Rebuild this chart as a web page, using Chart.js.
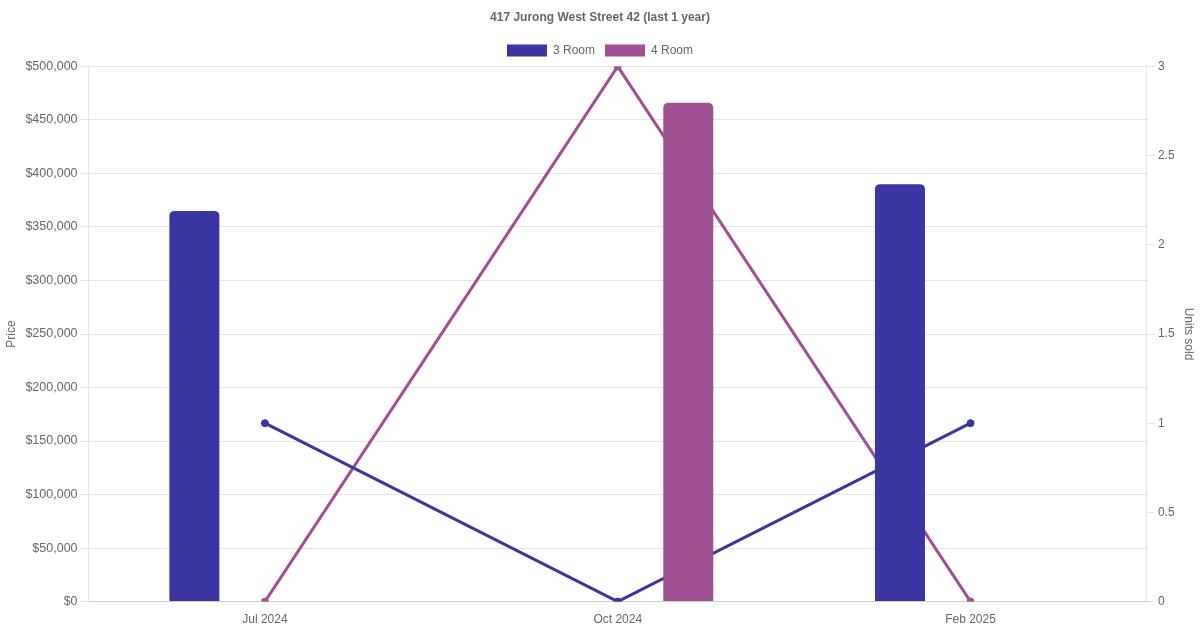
<!DOCTYPE html>
<html>
<head>
<meta charset="utf-8">
<script src="https://cdn.jsdelivr.net/npm/chart.js@4"></script>
<style>
html,body{margin:0;padding:0;background:#fff;}
#wrap{width:1200px;height:630px;}
</style>
</head>
<body>
<div id="wrap"><canvas id="c"></canvas></div>
<script>
const categories = ["Jul 2024", "Oct 2024", "Feb 2025"];
const price3Room = [365000, null, 390000];
const price4Room = [null, 466000, null];
const units3Room = [1, 0, 1];
const units4Room = [0, 3, 0];
const color3 = "#3A35A0";
const color4 = "#9F4F92";

Chart.defaults.color = "#666";

new Chart(document.getElementById('c'), {
  data: {
    labels: categories,
    datasets: [
      { type: 'bar', label: '3 Room', data: price3Room, backgroundColor: color3, borderColor: color3, borderWidth: 0, borderRadius: 5, maxBarThickness: 50, yAxisID: 'y' },
      { type: 'bar', label: '4 Room', data: price4Room, backgroundColor: color4, borderColor: color4, borderWidth: 0, borderRadius: 5, maxBarThickness: 50, yAxisID: 'y' },
      { type: 'line', label: '3 Room units', data: units3Room, borderColor: color3, backgroundColor: color3, borderWidth: 3, pointRadius: 3.5, pointBorderWidth: 1, pointHoverRadius: 4, fill: false, tension: 0, yAxisID: 'y1' },
      { type: 'line', label: '4 Room units', data: units4Room, borderColor: color4, backgroundColor: color4, borderWidth: 3, pointRadius: 3.5, pointBorderWidth: 1, pointHoverRadius: 4, fill: false, tension: 0, yAxisID: 'y1' }
    ]
  },
  options: {
    responsive: true,
    maintainAspectRatio: false,
    animation: false,
    plugins: {
      title: { display: true, text: '417 Jurong West Street 42 (last 1 year)', font: { size: 12, weight: 'bold' }, color: '#666' },
      legend: {
        labels: { filter: (item) => item.datasetIndex < 2, boxWidth: 40, boxHeight: 12 }
      }
    },
    scales: {
      x: { grid: { display: false }, ticks: { color: '#666' } },
      y: {
        position: 'left', min: 0, max: 500000,
        ticks: { stepSize: 50000, font: { size: 12.5 }, callback: (v) => '$' + v.toLocaleString('en-US') },
        title: { display: true, text: 'Price' }
      },
      y1: {
        position: 'right', min: 0, max: 3,
        ticks: { stepSize: 0.5, callback: (v) => String(v) },
        grid: { drawOnChartArea: false },
        title: { display: true, text: 'Units sold' }
      }
    }
  }
});
</script>
</body>
</html>
